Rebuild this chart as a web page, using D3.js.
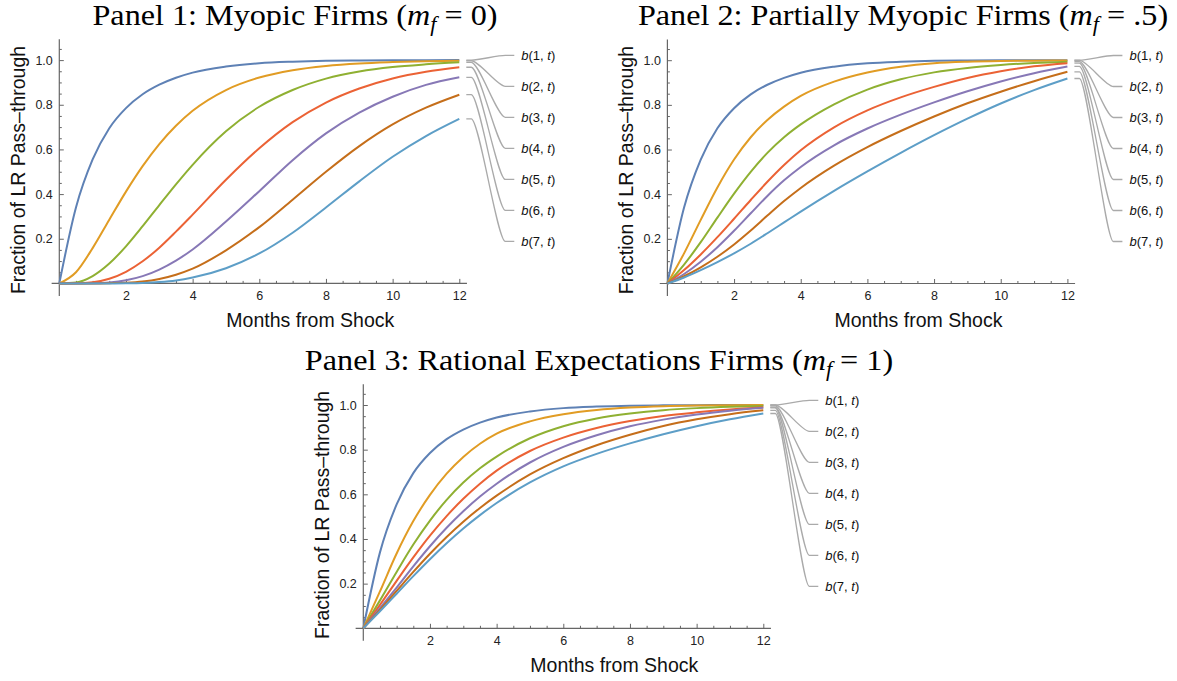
<!DOCTYPE html>
<html lang="en">
<head>
<meta charset="UTF-8">
<title>Pass-through panels</title>
<script src="https://cdn.jsdelivr.net/npm/d3@7"></script>
<style>
  body { margin: 0; background: #fff; }
  svg { display: block; }
  .tick text { font-family: "Liberation Sans", Arial, sans-serif; font-size: 12.5px; fill: #222; }
  .axis-title { font-family: "Liberation Sans", Arial, sans-serif; font-size: 19.5px; fill: #111; }
  .panel-title { font-family: "Liberation Serif", serif; font-size: 29px; fill: #000; }
  .callout text { font-family: "Liberation Sans", Arial, sans-serif; font-size: 13px; fill: #111; }
</style>
</head>
<body>
<div id="chart"></div>
<script>
// months sampled along the x axis
const months = [0, 0.5, 1, 1.5, 2, 2.5, 3, 3.5, 4, 5, 6, 7, 8, 9, 10, 11, 12];

const xTicks = [2, 4, 6, 8, 10, 12];
const yTicks = [0.2, 0.4, 0.6, 0.8, 1.0];
const seriesIds = ["1", "2", "3", "4", "5", "6", "7"];

const titleTexts = ["Panel 1: Myopic Firms", "Panel 2: Partially Myopic Firms", "Panel 3: Rational Expectations Firms"];
const mfValues = ["0", ".5", "1"];

// b(1, t) looks the same in every panel
const b1 = [0, 0.34, 0.555, 0.695, 0.785, 0.847, 0.89, 0.921, 0.944, 0.971, 0.986, 0.993, 0.997, 0.9985, 0.9993, 0.9997, 0.9999];

// Panel 1: myopic firms
const myopic = [
  b1,
  [0, 0.05, 0.158, 0.285, 0.411, 0.525, 0.624, 0.706, 0.773, 0.866, 0.922, 0.955, 0.974, 0.985, 0.991, 0.995, 0.997],
  [0, 0.0045, 0.033, 0.089, 0.166, 0.256, 0.3505, 0.4435, 0.531, 0.681, 0.791, 0.866, 0.917, 0.949, 0.969, 0.981, 0.99],
  [0, 0.0003, 0.005, 0.021, 0.052, 0.099, 0.16, 0.232, 0.308, 0.464, 0.605, 0.722, 0.81, 0.873, 0.918, 0.948, 0.968],
  [0, 0, 0.001, 0.0045, 0.014, 0.0325, 0.062, 0.102, 0.152, 0.277, 0.413, 0.552, 0.672, 0.765, 0.836, 0.889, 0.923],
  [0, 0, 0, 0.001, 0.003, 0.0085, 0.02, 0.039, 0.066, 0.148, 0.252, 0.375, 0.50, 0.615, 0.712, 0.787, 0.845],
  [0, 0, 0, 0, 0.0007, 0.0023, 0.006, 0.013, 0.026, 0.068, 0.134, 0.227, 0.34, 0.457, 0.567, 0.66, 0.737]
];

// Panel 2: partially myopic firms
const partial = [
  b1,
  [0, 0.135, 0.285, 0.43, 0.555, 0.655, 0.732, 0.792, 0.84, 0.904, 0.945, 0.971, 0.986, 0.993, 0.9965, 0.998, 0.999],
  [0, 0.085, 0.185, 0.295, 0.4025, 0.5, 0.585, 0.655, 0.7125, 0.8025, 0.8685, 0.9145, 0.9455, 0.9655, 0.9785, 0.9875, 0.9935],
  [0, 0.06, 0.13, 0.2075, 0.29, 0.374, 0.4555, 0.5305, 0.5965, 0.6995, 0.7755, 0.8335, 0.8805, 0.9205, 0.9505, 0.9725, 0.9865],
  [0, 0.0425, 0.0975, 0.1625, 0.236, 0.3145, 0.392, 0.462, 0.522, 0.619, 0.694, 0.756, 0.811, 0.861, 0.905, 0.942, 0.972],
  [0, 0.0325, 0.0725, 0.12, 0.175, 0.2375, 0.304, 0.369, 0.428, 0.528, 0.611, 0.683, 0.748, 0.807, 0.859, 0.906, 0.948],
  [0, 0.027, 0.06, 0.096, 0.135, 0.178, 0.225, 0.2735, 0.322, 0.415, 0.502, 0.585, 0.664, 0.738, 0.806, 0.866, 0.918]
];

// Panel 3: rational expectations firms
const rational = [
  b1,
  [0, 0.165, 0.335, 0.48, 0.5975, 0.6925, 0.7675, 0.8265, 0.8715, 0.9265, 0.9585, 0.9775, 0.9885, 0.9945, 0.9975, 0.999, 1],
  [0, 0.125, 0.2525, 0.375, 0.4825, 0.575, 0.6525, 0.7165, 0.769, 0.851, 0.905, 0.94, 0.962, 0.977, 0.986, 0.992, 0.996],
  [0, 0.105, 0.2125, 0.3175, 0.415, 0.5025, 0.58, 0.6475, 0.706, 0.794, 0.854, 0.897, 0.928, 0.951, 0.967, 0.98, 0.99],
  [0, 0.09, 0.1825, 0.2775, 0.3675, 0.45, 0.524, 0.59, 0.6475, 0.7425, 0.8125, 0.8645, 0.9045, 0.9345, 0.9575, 0.9745, 0.9875],
  [0, 0.0825, 0.1675, 0.2525, 0.334, 0.409, 0.4775, 0.539, 0.594, 0.689, 0.762, 0.82, 0.867, 0.906, 0.936, 0.959, 0.976],
  [0, 0.0765, 0.155, 0.2335, 0.3095, 0.381, 0.447, 0.507, 0.561, 0.653, 0.725, 0.781, 0.828, 0.869, 0.905, 0.936, 0.962]
];

const colors = ["#5e81b5", "#e19c24", "#8fb032", "#eb6235", "#8778b6", "#c56e1a", "#5d9ec7"];

// where each panel sits on the page
const panels = [
  { values: myopic,   x0: 59.3,  y0: 283.4, titleX: 295, titleY: 25 },
  { values: partial,  x0: 667.4, y0: 283.5, titleX: 903, titleY: 25 },
  { values: rational, x0: 363.3, y0: 628.3, titleX: 599, titleY: 370 }
];

const W = 1177, H = 681;
const plotW = 400, plotH = 223.3;

const svg = d3.select("#chart").append("svg").attr("width", W).attr("height", H);

const minorX = d3.range(0.5, 12.01, 0.5).filter(d => d % 2 !== 0);
const minorY = d3.range(1, 22).map(d => d * 0.05).filter(d => Math.abs(d * 5 - Math.round(d * 5)) > 1e-6);

panels.forEach((p, pi) => {
  const g = svg.append("g");
  const x = d3.scaleLinear().domain([0, 12]).range([p.x0, p.x0 + plotW]);
  const y = d3.scaleLinear().domain([0, 1]).range([p.y0, p.y0 - plotH]);

  // title with the m_f term; stretched a little to get the wide book-face look
  const t = g.append("g")
    .attr("transform", `translate(${p.titleX},${p.titleY}) scale(1.11,1)`)
    .append("text").attr("class", "panel-title").attr("text-anchor", "middle");
  t.append("tspan").text(titleTexts[pi] + " (");
  t.append("tspan").attr("font-style", "italic").text("m");
  t.append("tspan").attr("font-style", "italic").attr("font-size", "20px").attr("dy", 6).text("f");
  t.append("tspan").attr("dy", -6).text(" = " + mfValues[pi] + ")");

  const axisColor = "#666";

  // axis lines, a bit past the data range like the original
  g.append("line")
    .attr("x1", x(-0.23)).attr("x2", x(12.23))
    .attr("y1", y(0)).attr("y2", y(0))
    .attr("stroke", axisColor).attr("stroke-width", 1.2);
  g.append("line")
    .attr("x1", x(0)).attr("x2", x(0))
    .attr("y1", y(-0.056)).attr("y2", y(1.093))
    .attr("stroke", axisColor).attr("stroke-width", 1.2);

  const xMinor = g.append("g").attr("transform", `translate(0,${y(0)})`)
    .call(d3.axisBottom(x).tickValues(minorX).tickSize(-2.5).tickFormat(""));
  const xMajor = g.append("g").attr("transform", `translate(0,${y(0)})`)
    .call(d3.axisBottom(x).tickValues(xTicks).tickSize(-4.5).tickPadding(8).tickFormat(d3.format("d")));
  const yMinor = g.append("g").attr("transform", `translate(${x(0)},0)`)
    .call(d3.axisLeft(y).tickValues(minorY).tickSize(-2.5).tickFormat(""));
  const yMajor = g.append("g").attr("transform", `translate(${x(0)},0)`)
    .call(d3.axisLeft(y).tickValues(yTicks).tickSize(-4.5).tickPadding(6.5).tickFormat(d3.format(".1f")));
  [xMinor, xMajor, yMinor, yMajor].forEach(a => {
    a.select(".domain").remove();
    a.attr("color", axisColor);
    a.selectAll(".tick line").attr("stroke-width", 1);
  });

  // axis titles
  g.append("text").attr("class", "axis-title")
    .attr("x", x(0) + 251).attr("y", y(0) + 43.5)
    .attr("text-anchor", "middle")
    .text("Months from Shock");
  g.append("text").attr("class", "axis-title")
    .attr("transform", `translate(${x(0) - 34},${y(0) - 113.4}) rotate(-90)`)
    .attr("text-anchor", "middle")
    .text("Fraction of LR Pass\u2013through");

  // curves
  const line = d3.line()
    .x((d, i) => x(months[i]))
    .y(d => y(d))
    .curve(d3.curveMonotoneX);

  g.selectAll(".curve")
    .data(p.values)
    .enter()
    .append("path")
    .attr("class", "curve")
    .attr("d", line)
    .attr("fill", "none")
    .attr("stroke", (d, i) => colors[i])
    .attr("stroke-width", 2);

  // callout leaders and labels
  const xEnd = x(12);
  const callouts = g.append("g").attr("class", "callout");
  p.values.forEach((vals, i) => {
    const ys = y(vals[vals.length - 1]);
    const yl = y(0) - 228 + i * 31;
    const x1 = xEnd + 12, x2 = xEnd + 46;
    callouts.append("path")
      .attr("d", `M${xEnd + 7},${ys}H${x1}C${x1 + 8},${ys} ${x2 - 8},${yl} ${x2},${yl}H${xEnd + 55}`)
      .attr("fill", "none")
      .attr("stroke", "#aaa")
      .attr("stroke-width", 1.3);
    const lab = callouts.append("text").attr("x", xEnd + 62).attr("y", yl + 4.5);
    lab.append("tspan").attr("font-style", "italic").text("b");
    lab.append("tspan").text("(" + seriesIds[i] + ", ");
    lab.append("tspan").attr("font-style", "italic").text("t");
    lab.append("tspan").text(")");
  });
});
</script>
</body>
</html>
